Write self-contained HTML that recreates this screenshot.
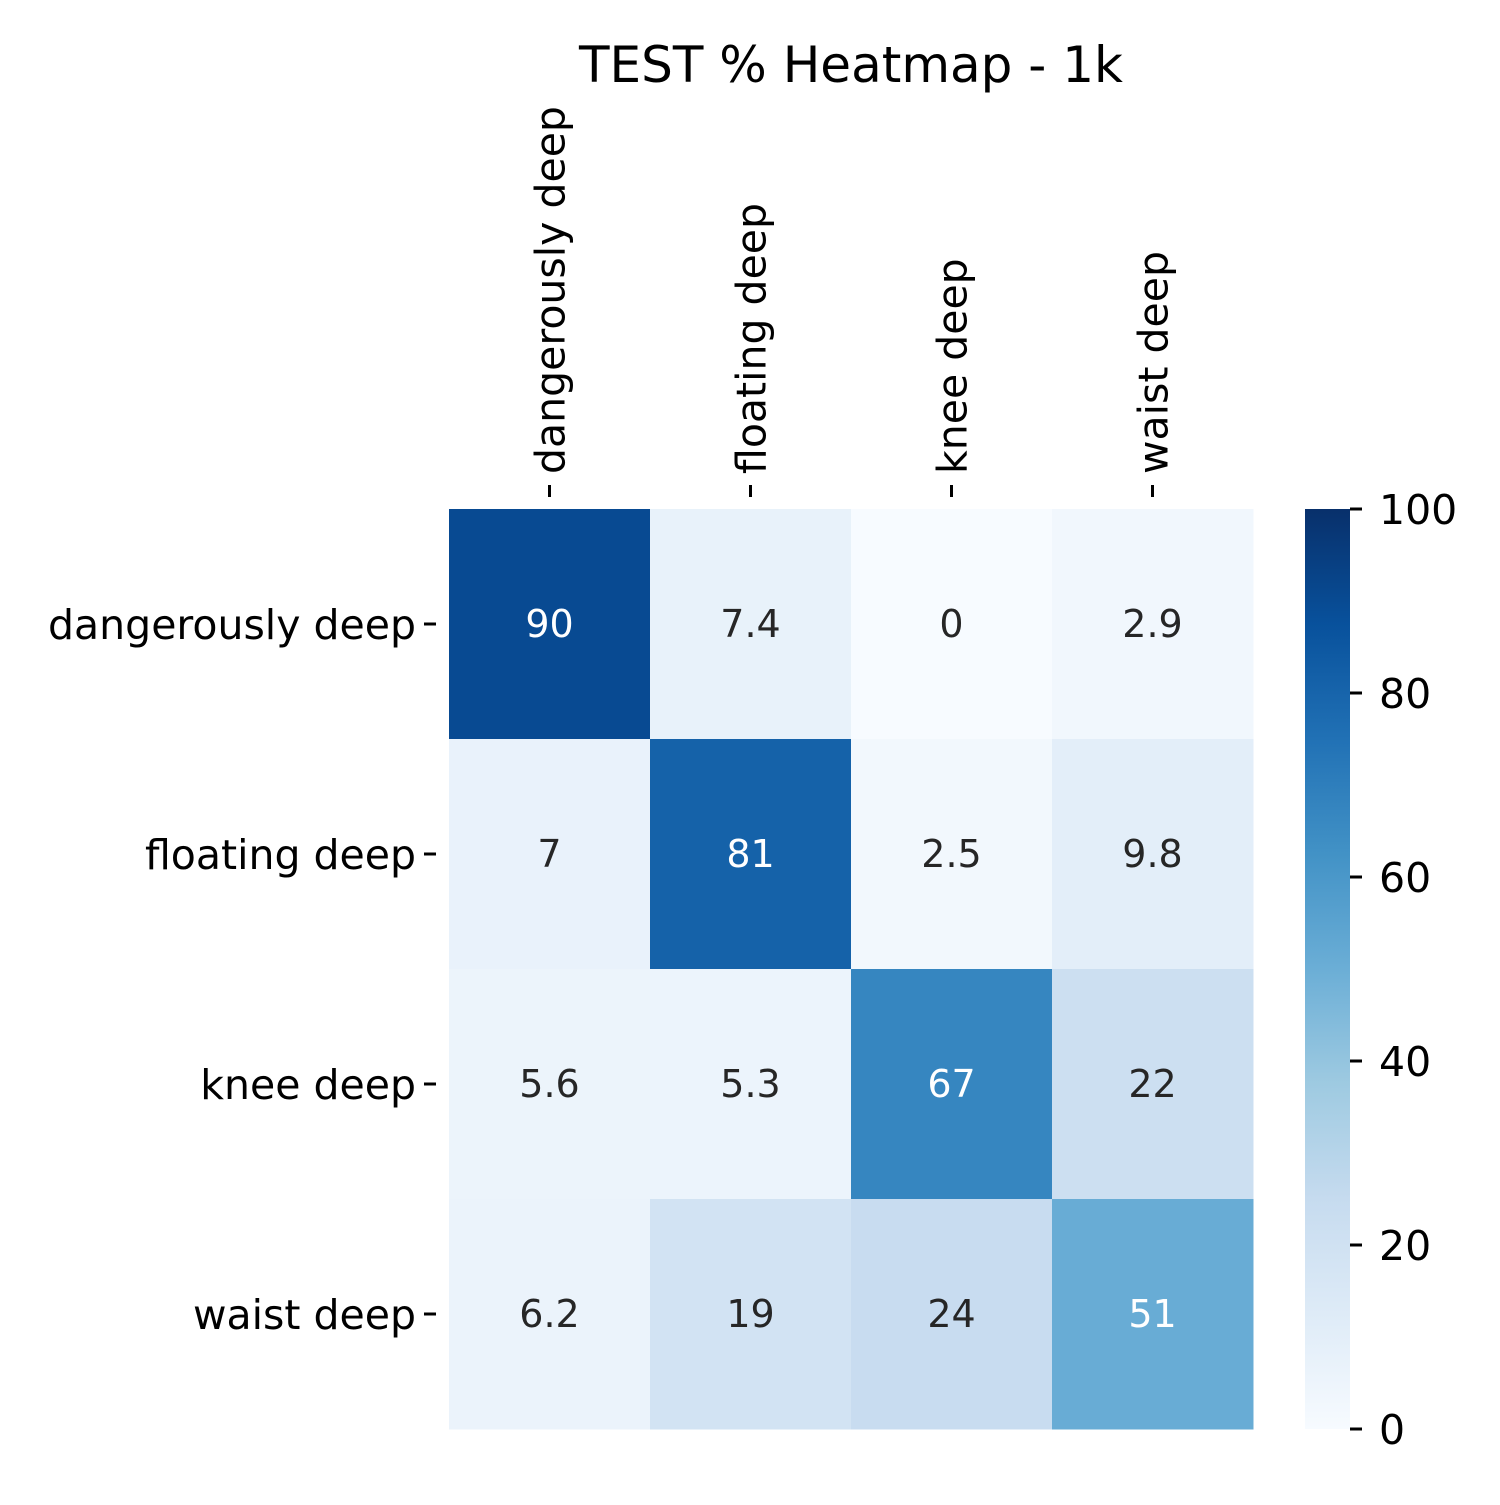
<!DOCTYPE html>
<html>
<head>
<meta charset="utf-8">
<style>
  html, body { margin: 0; padding: 0; background: #ffffff; }
  svg text { font-family: "DejaVu Sans", "Liberation Sans", sans-serif; }
</style>
</head>
<body>
<svg id="chart" width="1500" height="1500" viewBox="0 0 1500 1500" xmlns="http://www.w3.org/2000/svg">
  <rect width="1500" height="1500" fill="#ffffff"/>
  <text x="851" y="82" text-anchor="middle" font-size="50" fill="#000">TEST % Heatmap - 1k</text>
  <g id="cells"></g>
  <g id="xaxis"></g>
  <g id="yaxis"></g>
  <defs>
    <linearGradient id="cbgrad" x1="0" y1="1" x2="0" y2="0">
      <stop offset="0" stop-color="#f7fbff"/>
      <stop offset="0.125" stop-color="#deebf7"/>
      <stop offset="0.25" stop-color="#c6dbef"/>
      <stop offset="0.375" stop-color="#9ecae1"/>
      <stop offset="0.5" stop-color="#6baed6"/>
      <stop offset="0.625" stop-color="#4292c6"/>
      <stop offset="0.75" stop-color="#2171b5"/>
      <stop offset="0.875" stop-color="#08519c"/>
      <stop offset="1" stop-color="#08306b"/>
    </linearGradient>
  </defs>
  <rect x="1305" y="509" width="45" height="920" fill="url(#cbgrad)"/>
  <g id="cbaxis"></g>
</svg>
<script>
const xCategories = ["dangerously deep", "floating deep", "knee deep", "waist deep"];
const yCategories = ["dangerously deep", "floating deep", "knee deep", "waist deep"];
const row0 = [90, 7.4, 0, 2.9];
const row1 = [7, 81, 2.5, 9.8];
const row2 = [5.6, 5.3, 67, 22];
const row3 = [6.2, 19, 24, 51];
const cbTicks = [0, 20, 40, 60, 80, 100];

const values = [row0, row1, row2, row3];
const vmin = 0, vmax = 100;
const X0 = 449, X1 = 1253, Y0 = 509, Y1 = 1429;
const cw = (X1 - X0) / xCategories.length;
const ch = (Y1 - Y0) / yCategories.length;
function xScale(i) { return X0 + i * cw; }
function yScale(j) { return Y0 + j * ch; }
function cbScale(v) { return Y1 - (v - vmin) / (vmax - vmin) * (Y1 - Y0); }

const stops = ["#f7fbff","#deebf7","#c6dbef","#9ecae1","#6baed6","#4292c6","#2171b5","#08519c","#08306b"];
function hex(h) { return [1,3,5].map(k => parseInt(h.substr(k,2),16)); }
function lin(c) { c /= 255; return c <= 0.03928 ? c / 12.92 : Math.pow((c + 0.055) / 1.055, 2.4); }
function color(v) {
  let t = Math.max(0, Math.min(1, (v - vmin) / (vmax - vmin))) * (stops.length - 1);
  let i = Math.min(Math.floor(t), stops.length - 2), f = t - i;
  const a = hex(stops[i]), b = hex(stops[i+1]);
  const c = a.map((x, k) => Math.round(x + (b[k] - x) * f));
  const lum = 0.2126 * lin(c[0]) + 0.7152 * lin(c[1]) + 0.0722 * lin(c[2]);
  return { css: `rgb(${c[0]},${c[1]},${c[2]})`, lum: lum };
}
const NS = "http://www.w3.org/2000/svg";
function mk(tag, attrs, parent) {
  const e = document.createElementNS(NS, tag);
  for (const k in attrs) e.setAttribute(k, attrs[k]);
  parent.appendChild(e);
  return e;
}
const cells = document.getElementById("cells");
values.forEach((row, j) => {
  row.forEach((v, i) => {
    const c = color(v);
    const r = mk("rect", { x: xScale(i), y: yScale(j), width: cw + 0.5, height: ch + 0.5, fill: c.css }, cells);
    
    
    const t = mk("text", { x: xScale(i) + cw / 2, y: yScale(j) + ch / 2 + 13, "text-anchor": "middle", "font-size": "38", fill: c.lum < 0.408 ? "#ffffff" : "#262626" }, cells);
    t.textContent = String(v);
    
    
  });
});
const xa = document.getElementById("xaxis");
xCategories.forEach((c, i) => {
  const cx = xScale(i) + cw / 2;
  const l = mk("line", { x1: cx, x2: cx, y1: 485, y2: 497, stroke: "#000", "stroke-width": 3 }, xa);
  
  
  const t = mk("text", { transform: `translate(${cx + 15},474) rotate(-90)`, "text-anchor": "start", "font-size": "41", fill: "#000" }, xa);
  t.textContent = c;
  
  
});
const ya = document.getElementById("yaxis");
yCategories.forEach((c, j) => {
  const cy = yScale(j) + ch / 2;
  const l = mk("line", { x1: 424, x2: 436, y1: cy, y2: cy, stroke: "#000", "stroke-width": 3 }, ya);
  
  
  const t = mk("text", { x: 416, y: cy + 15, "text-anchor": "end", "font-size": "41", fill: "#000" }, ya);
  t.textContent = c;
  
  
});
const cba = document.getElementById("cbaxis");
cbTicks.forEach(v => {
  const y = cbScale(v);
  const l = mk("line", { x1: 1350, x2: 1362, y1: y, y2: y, stroke: "#000", "stroke-width": 3 }, cba);
  
  
  const t = mk("text", { x: 1379, y: y + 15, "text-anchor": "start", "font-size": "41", fill: "#000" }, cba);
  t.textContent = String(v);
  
  
});
</script>
</body>
</html>
